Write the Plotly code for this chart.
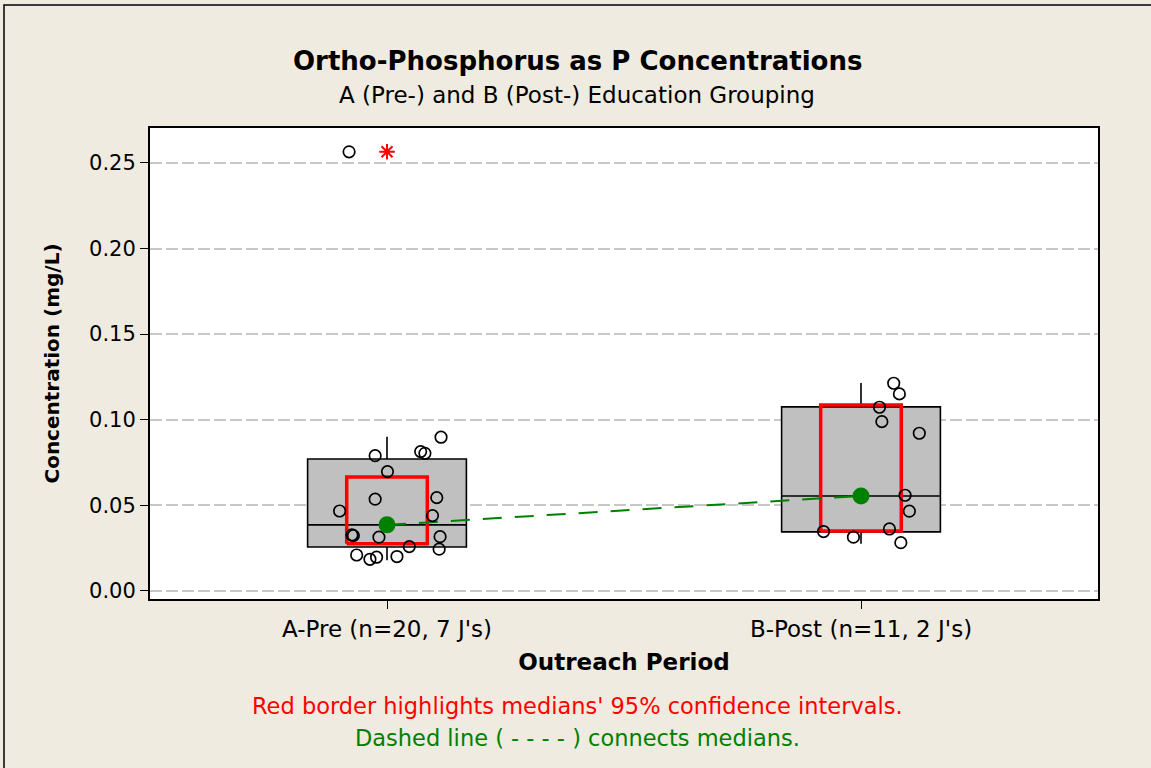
import plotly.graph_objects as go

# ---- data ----
categories = ["A-Pre (n=20, 7 J's)", "B-Post (n=11, 2 J's)"]
cat_pos = [0, 1]

# box statistics
q1 = [0.0257, 0.0345]
median = [0.0386, 0.0555]
q3 = [0.0771, 0.1075]
whisker_low = [0.0180, 0.0275]
whisker_high = [0.0900, 0.1215]

# 95% CI of medians
ci_low = [0.0275, 0.0350]
ci_high = [0.0666, 0.1086]

# outlier (asterisk) in group A
outlier_y = [0.2565]

# individual observations (jitter offsets in category units, values)
a_jitter = [0.114, -0.025, 0.071, 0.080, 0.001, -0.025, 0.105, -0.100, 0.096,
            -0.074, -0.071, -0.017, 0.112, 0.047, 0.110, -0.064, -0.036, -0.022,
            0.021, -0.080]
a_values = [0.0898, 0.0790, 0.0814, 0.0804, 0.0697, 0.0536, 0.0545, 0.0467, 0.0440,
            0.0327, 0.0323, 0.0314, 0.0317, 0.0259, 0.0244, 0.0210, 0.0185, 0.0197,
            0.0201, 0.2565]
b_jitter = [0.069, 0.081, 0.039, 0.044, 0.123, 0.093, 0.102, -0.079, 0.060,
            -0.016, 0.084]
b_values = [0.1213, 0.1151, 0.1073, 0.0989, 0.0921, 0.0559, 0.0466, 0.0347, 0.0362,
            0.0314, 0.0282]

box_width = 0.335
ci_half = 0.085

FONT = "DejaVu Sans"
BG = "#EFEBE0"
fig = go.Figure()

for i, c in enumerate(cat_pos):
    fig.add_trace(go.Box(
        x=[c], q1=[q1[i]], median=[median[i]], q3=[q3[i]],
        lowerfence=[whisker_low[i]], upperfence=[whisker_high[i]],
        width=box_width, whiskerwidth=0, fillcolor="#C0C0C0",
        line=dict(color="black", width=1.6), boxpoints=False,
        showlegend=False, hoverinfo="skip"))

for i, c in enumerate(cat_pos):
    fig.add_trace(go.Scatter(
        x=[c - ci_half, c + ci_half, c + ci_half, c - ci_half, c - ci_half],
        y=[ci_low[i], ci_low[i], ci_high[i], ci_high[i], ci_low[i]],
        mode="lines", line=dict(color="#FF0000", width=3.5),
        showlegend=False, hoverinfo="skip"))

fig.add_trace(go.Scatter(
    x=[cat_pos[0]], y=outlier_y, mode="markers",
    marker=dict(symbol="asterisk-open", size=13, color="#FF0000",
                line=dict(color="#FF0000", width=2)),
    showlegend=False))

fig.add_trace(go.Scatter(
    x=cat_pos, y=median, mode="lines",
    line=dict(color="#008000", width=2, dash="19px,13px"), showlegend=False))

fig.add_trace(go.Scatter(
    x=[cat_pos[0] + j for j in a_jitter] + [cat_pos[1] + j for j in b_jitter],
    y=a_values + b_values, mode="markers",
    marker=dict(symbol="circle-open", size=11.5, color="black",
                line=dict(color="black", width=1.7)),
    showlegend=False))

fig.add_trace(go.Scatter(
    x=cat_pos, y=median, mode="markers",
    marker=dict(size=17, color="#008000"), showlegend=False))

fig.update_layout(
    width=1151, height=768,
    paper_bgcolor=BG, plot_bgcolor="white",
    margin=dict(l=150, r=53, t=128, b=169),
    font=dict(family=FONT, color="black"),
    showlegend=False,
    xaxis=dict(range=[-0.5, 1.5], tickvals=cat_pos, ticktext=categories,
               showgrid=False, zeroline=False, showline=True, mirror=True,
               linecolor="black", linewidth=2, ticks="outside", ticklen=8,
               tickcolor="black", tickfont=dict(size=23),
               title=dict(text="<b>Outreach Period</b>", font=dict(size=23),
                          standoff=13)),
    yaxis=dict(range=[-0.0047, 0.2704], tickvals=[0, 0.05, 0.10, 0.15, 0.20, 0.25],
               tickformat=".2f", showgrid=True, gridcolor="#C8C8C8", gridwidth=2,
               griddash="12px,4px", zeroline=False, showline=True, mirror=True,
               linecolor="black", linewidth=2, ticks="outside", ticklen=8,
               tickcolor="black", tickfont=dict(size=21),
               title=dict(text="<b>Concentration (mg/L)</b>", font=dict(size=20),
                          standoff=24)),
    annotations=[
        dict(text="<b>Ortho-Phosphorus as P Concentrations</b>", x=577, y=61,
             xref="paper", yref="paper", showarrow=False, font=dict(size=26)),
        dict(text="A (Pre-) and B (Post-) Education Grouping", x=577, y=95,
             xref="paper", yref="paper", showarrow=False, font=dict(size=23)),
        dict(text="Red border highlights medians' 95% confidence intervals.", x=577, y=706,
             xref="paper", yref="paper", showarrow=False, font=dict(size=22.5, color="#FF0000")),
        dict(text="Dashed line ( - - - - ) connects medians.", x=577, y=738,
             xref="paper", yref="paper", showarrow=False, font=dict(size=22.5, color="#008000")),
    ],
)

# convert pixel-like annotation positions to paper coords
W, H = 1151, 768
L, R, T, B = 150, 53, 128, 169
pw, ph = W - L - R, H - T - B
for a in fig.layout.annotations:
    a.x = (a.x - L) / pw
    a.y = (H - B - a.y) / ph
    a.xanchor = "center"
    a.yanchor = "middle"

fig.add_shape(type="rect", xref="paper", yref="paper",
              x0=(4 - L) / pw, x1=(W + 20 - L) / pw,
              y0=(H - B - (H + 20)) / ph, y1=(H - B - 5) / ph,
              line=dict(color="black", width=1.5), fillcolor="rgba(0,0,0,0)", layer="below")

fig.write_html("out.html", config={"displayModeBar": False},
               post_script="document.body.style.margin='0';document.body.style.background='%s';"
                           "document.body.style.overflow='hidden';" % BG)
